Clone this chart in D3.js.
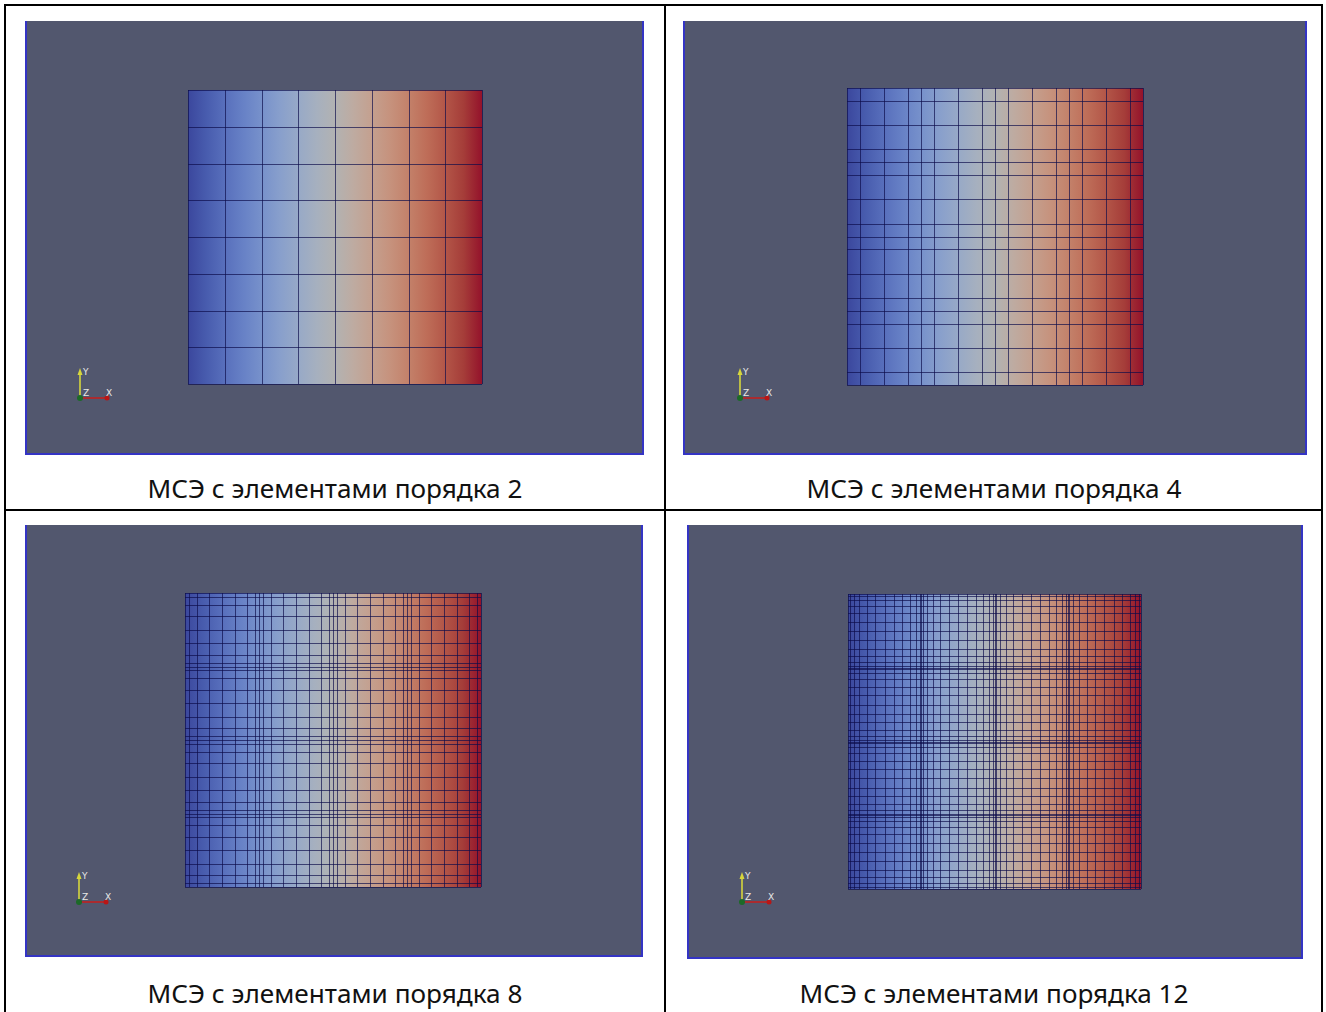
<!DOCTYPE html>
<html>
<head>
<meta charset="utf-8">
<script src="https://cdn.jsdelivr.net/npm/d3@7"></script>
<style>
  html, body { margin: 0; padding: 0; background: #ffffff; }
  svg { display: block; }
</style>
</head>
<body>
<svg id="chart" width="1326" height="1012"></svg>
<script>
// ---------------- DATA ----------------
const captions = [
  "МСЭ с элементами порядка 2",
  "МСЭ с элементами порядка 4",
  "МСЭ с элементами порядка 8",
  "МСЭ с элементами порядка 12"
];
const orders = [2, 4, 8, 12];
const elementsPerSide = [4, 4, 4, 4];
// Gauss-Lobatto-Legendre node positions on [-1, 1] for each element order
const gllOrder2 = [-1, 0, 1];
const gllOrder4 = [-1, -0.6547, 0, 0.6547, 1];
const gllOrder8 = [-1, -0.8998, -0.6772, -0.3631, 0, 0.3631, 0.6772, 0.8998, 1];
const gllOrder12 = [-1, -0.9533, -0.8463, -0.6862, -0.4829, -0.2493, 0,
                    0.2493, 0.4829, 0.6862, 0.8463, 0.9533, 1];
const gllNodes = [gllOrder2, gllOrder4, gllOrder8, gllOrder12];
// Cool-to-warm colour map samples (field value from min to max, left to right)
const colormapStops = [
  [59,76,192],[77,104,215],[98,130,234],[119,154,247],[141,176,254],
  [163,194,255],[184,208,249],[204,217,238],[221,221,221],[236,211,197],
  [245,196,173],[247,177,148],[244,154,123],[236,127,99],[222,96,77],
  [203,62,56],[180,4,38]
];
const axisLabels = ["Y", "Z", "X"];

// ---------------- LAYOUT ----------------
const svg = d3.select("#chart");
const W = 1326, H = 1012;
svg.append("rect").attr("width", W).attr("height", H).attr("fill", "#ffffff");

const panels = [
  { frame: [25, 21, 644, 455], square: [188, 90, 482, 384], glyph: [80, 398], cap: [335, 498] },
  { frame: [683, 21, 1307, 455], square: [847, 88, 1143, 385], glyph: [740, 398], cap: [994, 498] },
  { frame: [25, 525, 643, 957], square: [185, 593, 481, 887], glyph: [79, 902], cap: [335, 1003] },
  { frame: [687, 525, 1303, 959], square: [848, 594, 1141, 889], glyph: [742, 902], cap: [994, 1003] }
];

const defs = svg.append("defs");
const shade = 0.84, desat = 0.12, gray = 150;
const shadeColor = c => d3.rgb(
  (c[0] * (1 - desat) + gray * desat) * shade,
  (c[1] * (1 - desat) + gray * desat) * shade,
  (c[2] * (1 - desat) + gray * desat) * shade).toString();
const stopPos = d3.scaleLinear().domain([0, colormapStops.length - 1]).range([0, 100]);

panels.forEach((p, i) => {
  const g = svg.append("g");
  const [fx0, fy0, fx1, fy1] = p.frame;
  g.append("rect").attr("x", fx0).attr("y", fy0)
    .attr("width", fx1 - fx0).attr("height", fy1 - fy0)
    .attr("fill", "#52576e");
  g.append("path")
    .attr("d", `M${fx0 + 1},${fy0} V${fy1 - 1} H${fx1 - 1} V${fy0}`)
    .attr("fill", "none").attr("stroke", "#3434c4").attr("stroke-width", 2);

  const gradId = "grad" + i;
  const grad = defs.append("linearGradient").attr("id", gradId)
    .attr("x1", "0%").attr("x2", "100%").attr("y1", "0%").attr("y2", "0%");
  colormapStops.forEach((c, k) => {
    grad.append("stop").attr("offset", stopPos(k) + "%").attr("stop-color", shadeColor(c));
  });

  const [sx0, sy0, sx1, sy1] = p.square;
  const nEl = elementsPerSide[i];
  const xs = d3.scaleLinear().domain([0, nEl]).range([sx0, sx1]);
  const ys = d3.scaleLinear().domain([0, nEl]).range([sy1, sy0]);
  g.append("rect").attr("x", sx0).attr("y", sy0)
    .attr("width", sx1 - sx0).attr("height", sy1 - sy0)
    .attr("fill", `url(#${gradId})`);

  const nodes = [];
  for (let e = 0; e < nEl; e++) {
    gllNodes[i].forEach((t, k) => {
      if (e > 0 && k === 0) return;
      nodes.push(e + (t + 1) / 2);
    });
  }
  const mesh = g.append("g").attr("stroke", "#0c0c4a").attr("stroke-opacity", 0.68)
    .attr("stroke-width", orders[i] <= 4 ? 1.3 : 1).attr("shape-rendering", "crispEdges");
  mesh.selectAll("line.v").data(nodes).join("line").attr("class", "v")
    .attr("x1", d => Math.round(xs(d)) + 0.5).attr("x2", d => Math.round(xs(d)) + 0.5)
    .attr("y1", sy0).attr("y2", sy1);
  mesh.selectAll("line.h").data(nodes).join("line").attr("class", "h")
    .attr("y1", d => Math.round(ys(d)) + 0.5).attr("y2", d => Math.round(ys(d)) + 0.5)
    .attr("x1", sx0).attr("x2", sx1);

  // orientation glyph
  const [ox, oy] = p.glyph;
  const ag = g.append("g");
  ag.append("line").attr("x1", ox).attr("y1", oy).attr("x2", ox).attr("y2", oy - 27)
    .attr("stroke", "#d6d63c").attr("stroke-width", 1.6);
  ag.append("path").attr("d", `M${ox - 2.5},${oy - 23} L${ox},${oy - 30} L${ox + 2.5},${oy - 23} Z`)
    .attr("fill", "#d6d63c");
  ag.append("line").attr("x1", ox).attr("y1", oy).attr("x2", ox + 26).attr("y2", oy)
    .attr("stroke", "#c02020").attr("stroke-width", 1.6);
  ag.append("circle").attr("cx", ox + 27).attr("cy", oy).attr("r", 2.5).attr("fill", "#b81616");
  ag.append("circle").attr("cx", ox).attr("cy", oy).attr("r", 3).attr("fill", "#1c6a28");
  const lab = [[ox + 3, oy - 23], [ox + 3, oy - 2], [ox + 26, oy - 2]];
  axisLabels.forEach((t, k) => {
    ag.append("text").attr("x", lab[k][0]).attr("y", lab[k][1])
      .attr("font-family", "DejaVu Sans, sans-serif").attr("font-size", 9)
      .attr("fill", "#e8e8e8").text(t);
  });

  const txt = svg.append("text").attr("x", p.cap[0]).attr("y", p.cap[1])
    .attr("text-anchor", "middle")
    .attr("font-family", "'Noto Sans', 'Open Sans', sans-serif")
    .attr("font-size", 25).attr("fill", "#111111").text(captions[i]);
  const target = 375 + (orders[i] >= 10 ? 14 : 0);
  const w = txt.node().getComputedTextLength();
  if (w > 0) txt.attr("font-size", 25 * target / w);
});

const borders = svg.append("g").attr("stroke", "#000000").attr("stroke-width", 2);
borders.append("line").attr("x1", 4).attr("x2", 1323).attr("y1", 5).attr("y2", 5);
borders.append("line").attr("x1", 5).attr("x2", 5).attr("y1", 4).attr("y2", H);
borders.append("line").attr("x1", 1322).attr("x2", 1322).attr("y1", 4).attr("y2", H);
borders.append("line").attr("x1", 665).attr("x2", 665).attr("y1", 4).attr("y2", H);
borders.append("line").attr("x1", 4).attr("x2", 1323).attr("y1", 510).attr("y2", 510);
</script>
</body>
</html>
